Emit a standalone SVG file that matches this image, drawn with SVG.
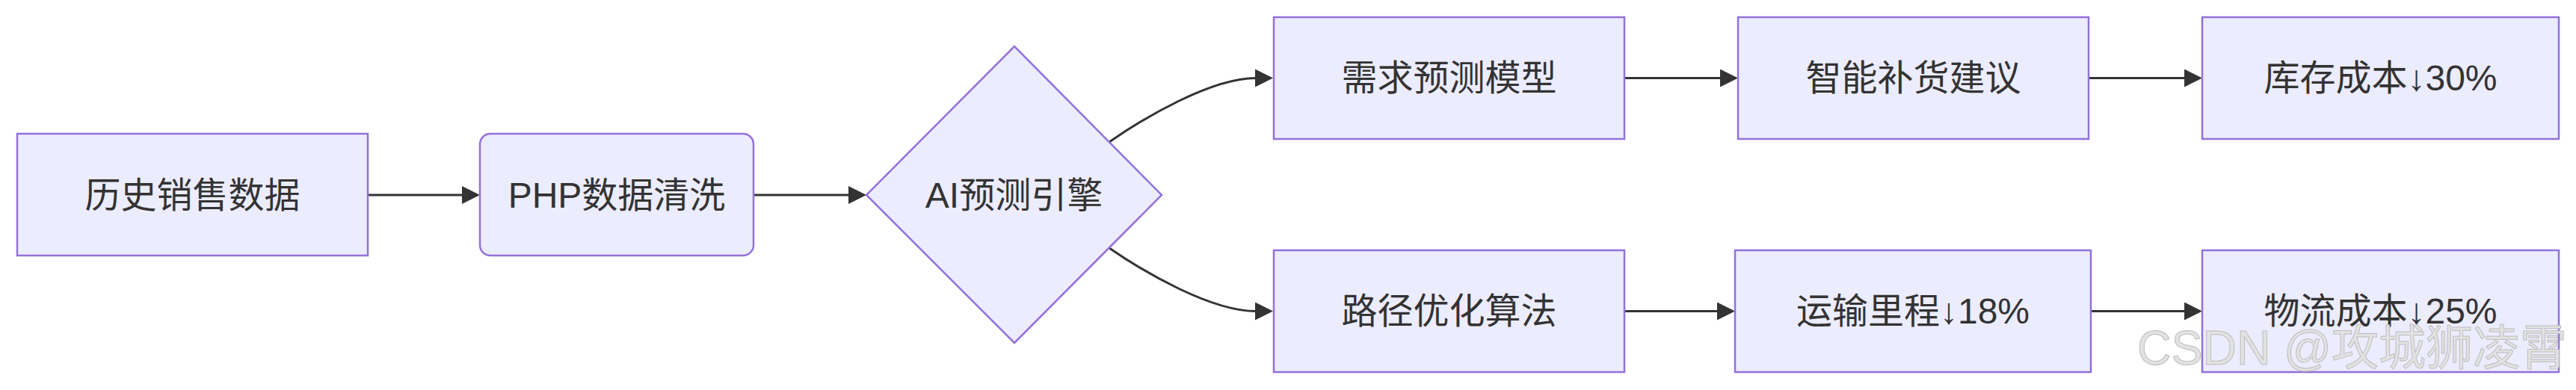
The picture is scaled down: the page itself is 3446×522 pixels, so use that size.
<svg xmlns="http://www.w3.org/2000/svg" width="3446" height="522" viewBox="0 0 3446 522">
<style>
.node rect, .node polygon { fill: #ECECFF; stroke: #9370DB; stroke-width: 2.5; }
.node text { font-family: "Liberation Sans", "Noto Sans CJK SC", sans-serif; font-size: 48px; fill: #333; text-anchor: middle; dominant-baseline: central; }
.edges path { fill: none; stroke: #333; stroke-width: 3; }
.wm { font-family: "Liberation Sans", "Noto Sans CJK SC", sans-serif; font-size: 64px; fill: #e2e2e2; stroke: #bdbdbd; stroke-width: 1; }
</style>
<defs>
<marker id="arrow" viewBox="0 0 10 10" refX="5" refY="5" markerUnits="userSpaceOnUse" markerWidth="24" markerHeight="24" orient="auto">
<path d="M0,0 L10,5 L0,10 z" fill="#333"/>
</marker>
</defs>
<rect width="3446" height="522" fill="#ffffff"/>
<g class="edges">
<path d="M492,261 L630,261" marker-end="url(#arrow)"/>
<path d="M1008,261 L1147,261" marker-end="url(#arrow)"/>
<path d="M1484,190 C1530,158 1620,104.5 1680,104.5 L1691,104.5" marker-end="url(#arrow)"/>
<path d="M1484,332 C1530,364 1620,416.5 1680,416.5 L1691,416.5" marker-end="url(#arrow)"/>
<path d="M2173,104.5 L2313,104.5" marker-end="url(#arrow)"/>
<path d="M2794,104.5 L2934,104.5" marker-end="url(#arrow)"/>
<path d="M2173,416.5 L2309,416.5" marker-end="url(#arrow)"/>
<path d="M2797,416.5 L2934,416.5" marker-end="url(#arrow)"/>
</g>
<g id="A" class="node"><rect x="23" y="179" width="469" height="163"/><text x="257.5" y="261">历史销售数据</text></g>
<g id="B" class="node"><rect x="642" y="179" width="366" height="163" rx="14" ry="14"/><text x="825" y="261">PHP数据清洗</text></g>
<g id="C" class="node"><polygon points="1159,261 1357,62 1554,261 1357,459"/><text x="1356.5" y="261">AI预测引擎</text></g>
<g id="D" class="node"><rect x="1704" y="23" width="469" height="163"/><text x="1938.5" y="104.5">需求预测模型</text></g>
<g id="E" class="node"><rect x="2325" y="23" width="469" height="163"/><text x="2559.5" y="104.5">智能补货建议</text></g>
<g id="F" class="node"><rect x="2946" y="23" width="477" height="163"/><text x="3184.5" y="104.5">库存成本↓30%</text></g>
<g id="G" class="node"><rect x="1704" y="335" width="469" height="163"/><text x="1938.5" y="416.5">路径优化算法</text></g>
<g id="H" class="node"><rect x="2321" y="335" width="476" height="163"/><text x="2559" y="416.5">运输里程↓18%</text></g>
<g id="I" class="node"><rect x="2946" y="335" width="477" height="163"/><text x="3184.5" y="416.5">物流成本↓25%</text></g>
<text class="wm" x="2859" y="488" textLength="575" lengthAdjust="spacingAndGlyphs">CSDN @攻城狮凌霄</text>
</svg>
